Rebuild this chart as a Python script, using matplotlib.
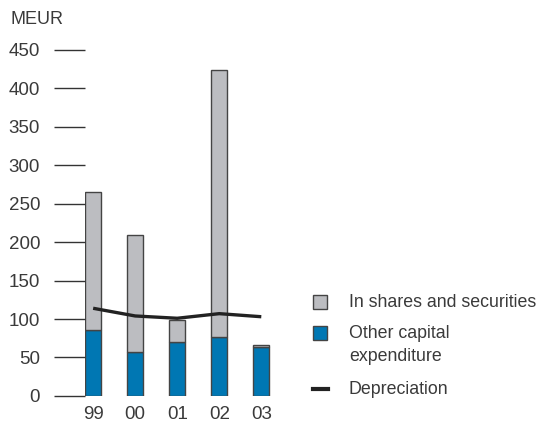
import matplotlib.pyplot as plt
from matplotlib.patches import Rectangle
from matplotlib.lines import Line2D

plt.rcParams['font.family'] = ['Liberation Sans', 'DejaVu Sans']

# Investments, MEUR
years = ['99', '00', '01', '02', '03']
other_capex = [86, 57, 70, 77, 64]
shares_securities = [179, 152, 29, 347, 2]
depreciation = [114, 104, 101, 107, 103]

GREY = '#bcbdc1'
BLUE = '#0077b3'
EDGE = '#444444'
TEXT = '#3a3a3a'

fig = plt.figure(figsize=(5.39, 4.23), dpi=100)
ax = fig.add_axes([0.158, 0.064, 0.3525, 0.818])

x = list(range(len(years)))
w = 0.38
ax.bar(x, other_capex, width=w, color=BLUE, edgecolor=EDGE, linewidth=1)
ax.bar(x, shares_securities, width=w, bottom=other_capex, color=GREY,
       edgecolor=EDGE, linewidth=1)
ax.plot(x, depreciation, color='#222222', linewidth=2.4, solid_capstyle='butt')

ax.set_xlim(-0.19, 4.33)
ax.set_ylim(0, 450)
ax.set_yticks(range(0, 451, 50))
ax.set_xticks(x)
ax.set_xticklabels(years)
for s in ax.spines.values():
    s.set_visible(False)
ax.tick_params(axis='y', length=22, width=1, color='#333333', pad=10.5,
               labelsize=13.5, labelcolor=TEXT)
ax.tick_params(axis='x', length=0, pad=7, labelsize=13.5, labelcolor=TEXT)
ax.patch.set_visible(False)

fig.text(10 / 539, 1 - 20 / 423, 'MEUR', fontsize=13, color=TEXT, va='center')

# legend drawn by hand in figure pixels
def fx(px):
    return px / 539

def fy(py):
    return 1 - py / 423

fig.patches.append(Rectangle((fx(313), fy(309)), 14 / 539, 14 / 423,
                             transform=fig.transFigure, facecolor=GREY,
                             edgecolor=EDGE, linewidth=1))
fig.patches.append(Rectangle((fx(313), fy(340)), 14 / 539, 14 / 423,
                             transform=fig.transFigure, facecolor=BLUE,
                             edgecolor=EDGE, linewidth=1))
fig.lines.append(Line2D([fx(313), fx(328)], [fy(389), fy(389)],
                        transform=fig.transFigure, color='#222222', linewidth=3))
fig.text(fx(349), fy(302), 'In shares and securities', fontsize=12.8,
         color=TEXT, va='center')
fig.text(fx(349), fy(333), 'Other capital', fontsize=12.8, color=TEXT, va='center')
fig.text(fx(349), fy(356), 'expenditure', fontsize=12.8, color=TEXT, va='center')
fig.text(fx(349), fy(389), 'Depreciation', fontsize=12.8, color=TEXT, va='center')

fig.savefig('out.png', dpi=100)
